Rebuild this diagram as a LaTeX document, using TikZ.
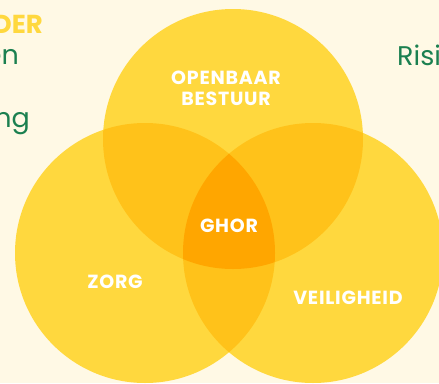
\documentclass[tikz,border=0pt]{standalone}
\usepackage{fontspec}
\setmainfont{Poppins}
\usetikzlibrary{positioning}
\definecolor{vnbg}{RGB}{255,249,229}
\definecolor{vnyellow}{RGB}{255,216,62}
\definecolor{vnyellowdark}{RGB}{255,194,26}
\definecolor{vnorange}{RGB}{255,166,0}
\definecolor{vngreen}{RGB}{27,128,80}
\tikzstyle{setlabel} = [text=white, align=center, inner sep=0pt, font=\fontsize{19}{21}\selectfont\bfseries\addfontfeature{LetterSpace=4}]
\tikzstyle{sidetext} = [text=vngreen, inner sep=0pt, font=\fontsize{27}{32}\selectfont]

\begin{document}
\begin{tikzpicture}[x=1pt,y=-1pt]
\fill[vnbg] (0,0) rectangle (439,383);
\useasboundingbox (0,0) rectangle (439,383);

% circle centres
\coordinate (bestuur) at (233,139);
\coordinate (zorg) at (145,253);
\coordinate (veilig) at (313,253);

% side texts
\node[anchor=base east, inner sep=0pt, text=vnyellow, font=\bfseries\fontsize{26}{30}\selectfont] (kop) at (43,33) {DER};
\node[sidetext, anchor=base east] (tekst1) at (19,64) {en};
\node[sidetext, anchor=base east] (tekst2) at (30,127) {ng};
\node[sidetext, anchor=base west] (tekst3) at (397,65) {Risi};

% circles
\fill[vnyellow] (bestuur) circle (130);
\fill[vnyellow] (zorg) circle (130);
\fill[vnyellow] (veilig) circle (130);

% overlaps of two
\begin{scope}
  \clip (bestuur) circle (130);
  \fill[vnyellowdark] (zorg) circle (130);
  \fill[vnyellowdark] (veilig) circle (130);
\end{scope}
\begin{scope}
  \clip (zorg) circle (130);
  \fill[vnyellowdark] (veilig) circle (130);
\end{scope}

% overlap of three
\begin{scope}
  \clip (bestuur) circle (130);
  \clip (zorg) circle (130);
  \fill[vnorange] (veilig) circle (130);
\end{scope}

% labels
\node[setlabel] (lbestuur) at (226,88) {OPENBAAR\\BESTUUR};
\node[setlabel] (lghor) at (229,226) {GHOR};
\node[setlabel] (lzorg) at (115,282) {ZORG};
\node[setlabel] (lveilig) at (348,298) {VEILIGHEID};
\end{tikzpicture}
\end{document}
